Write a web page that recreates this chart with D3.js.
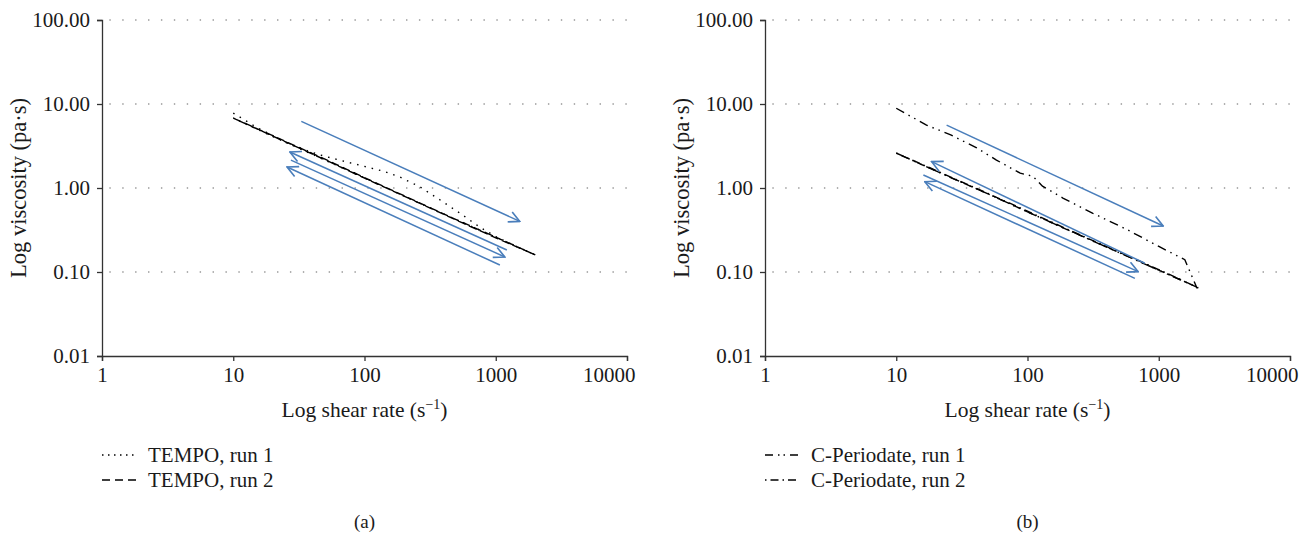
<!DOCTYPE html>
<html>
<head>
<meta charset="utf-8">
<script src="https://cdn.jsdelivr.net/npm/d3@7"></script>
<style>
  body { margin: 0; background: #fff; }
  svg text { font-family: "Liberation Serif", "Times New Roman", serif; fill: #1a1a1a; }
</style>
</head>
<body>
<svg id="chart" width="1309" height="535"></svg>
<script>
// ---- data (shear rate s^-1, viscosity Pa·s) ----
var xTicks = [1, 10, 100, 1000, 10000];
var yTicks = [0.01, 0.1, 1, 10, 100];

// panel (a) TEMPO
var tempoRun1Shear = [10, 15, 20, 27, 35, 46, 68, 97, 138, 186, 265, 377, 535, 760, 1017, 1400, 2000,
                      1000, 500, 200, 100, 50, 20, 10];
var tempoRun1Visc  = [7.8, 5.3, 4.2, 3.3, 2.85, 2.47, 2.1, 1.83, 1.59, 1.35, 1.03, 0.72, 0.50, 0.34, 0.26, 0.205, 0.16,
                      0.26, 0.42, 0.80, 1.32, 2.15, 4.1, 6.8];
var tempoRun2Shear = [10, 20, 50, 100, 200, 500, 1000, 2000, 1000, 500, 200, 100, 50, 20, 10];
var tempoRun2Visc  = [6.8, 4.2, 2.2, 1.33, 0.81, 0.42, 0.26, 0.16, 0.255, 0.415, 0.80, 1.31, 2.17, 4.15, 6.8];

// panel (b) C-Periodate
var perRun1Shear = [10, 17, 26, 41, 58, 88, 110, 130, 186, 315, 573, 1010, 1580, 1950,
                    2000, 1000, 500, 200, 100, 50, 20, 10];
var perRun1Visc  = [8.9, 5.6, 4.3, 3.0, 2.15, 1.5, 1.38, 1.05, 0.76, 0.50, 0.32, 0.20, 0.14, 0.065,
                    0.065, 0.105, 0.17, 0.32, 0.52, 0.85, 1.6, 2.6];
var perRun2Shear = [10, 20, 50, 100, 200, 500, 1000, 2000, 1000, 500, 200, 100, 50, 20, 10];
var perRun2Visc  = [2.6, 1.6, 0.85, 0.52, 0.32, 0.17, 0.105, 0.065, 0.107, 0.172, 0.325, 0.53, 0.86, 1.62, 2.6];

// direction arrows [x1, y1, x2, y2], head drawn at the second point
var tempoArrows = [
    [33, 6.2, 1525, 0.40],
    [1215, 0.183, 27, 2.68],
    [27.5, 2.15, 1173, 0.151],
    [1075, 0.121, 25.7, 1.78]
];
var perArrows = [
    [24.2, 5.6, 1081, 0.353],
    [783, 0.127, 18.6, 2.06],
    [16.1, 1.43, 697, 0.101],
    [658, 0.084, 16.5, 1.19]
];

var panels = [
    { tag: "(a)", dx: 0, arrows: tempoArrows,
      series: [
        { name: "TEMPO, run 1", xs: tempoRun1Shear, ys: tempoRun1Visc, dash: "1.5,6", legendDash: "1.5,4.5" },
        { name: "TEMPO, run 2", xs: tempoRun2Shear, ys: tempoRun2Visc, dash: "8,4", legendDash: "8,5" }
      ] },
    { tag: "(b)", dx: 663, arrows: perArrows,
      series: [
        { name: "C-Periodate, run 1", xs: perRun1Shear, ys: perRun1Visc, dash: "9,5,1.5,5,1.5,5", legendDash: "8,5,1.5,4,1.5,5" },
        { name: "C-Periodate, run 2", xs: perRun2Shear, ys: perRun2Visc, dash: "1.5,4,8,4", legendDash: "1.5,4,8,4" }
      ] }
];

var svg = d3.select("#chart");
var blue = "#4a7ebb";

// arrow marker
svg.append("defs").append("marker")
    .attr("id", "head")
    .attr("viewBox", "0 0 12 12")
    .attr("refX", 11).attr("refY", 6)
    .attr("markerWidth", 13).attr("markerHeight", 13)
    .attr("markerUnits", "userSpaceOnUse")
    .attr("orient", "auto")
    .append("path")
    .attr("d", "M1,1 L11,6 L1,11")
    .attr("fill", "none")
    .attr("stroke", blue)
    .attr("stroke-width", 1.5);

panels.forEach(function (p) {
    var left = 102, right = 627, top = 20, bottom = 356;
    var g = svg.append("g").attr("transform", "translate(" + p.dx + ",0)");

    var x = d3.scaleLog().domain([1, 10000]).range([left, right]);
    var y = d3.scaleLog().domain([0.01, 100]).range([bottom, top]);

    // dotted gridlines
    g.selectAll(".grid")
        .data(yTicks.slice(1))
        .enter().append("line")
        .attr("x1", left + 8).attr("x2", right)
        .attr("y1", function (d) { return y(d); })
        .attr("y2", function (d) { return y(d); })
        .attr("stroke", "#8a8a8a")
        .attr("stroke-width", 1.6)
        .attr("stroke-linecap", "round")
        .attr("stroke-dasharray", "0.1,12.8");

    // axes
    var ya = g.append("g")
        .attr("transform", "translate(" + left + ",0)")
        .call(d3.axisLeft(y).tickValues(yTicks).tickFormat(d3.format(".2f")).tickSize(5).tickPadding(7));
    var xa = g.append("g")
        .attr("transform", "translate(0," + bottom + ")")
        .call(d3.axisBottom(x).tickValues(xTicks).tickFormat(d3.format("d")).tickSize(5).tickPadding(6));
    [ya, xa].forEach(function (a) {
        a.select(".domain").attr("stroke", "#333").attr("stroke-width", 1.3);
        a.selectAll(".tick line").attr("stroke", "#333").attr("stroke-width", 1.3);
        a.selectAll("text").style("font-size", "21px").attr("fill", "#1a1a1a");
    });
    // last x label stays inside the axis end
    xa.selectAll(".tick text")
        .filter(function (d) { return d === 10000; })
        .attr("text-anchor", "end")
        .attr("x", 8);

    // series
    var line = d3.line()
        .x(function (d) { return x(d[0]); })
        .y(function (d) { return y(d[1]); });

    p.series.forEach(function (s) {
        var pts = d3.zip(s.xs, s.ys);
        g.append("path")
            .datum(pts)
            .attr("fill", "none")
            .attr("stroke", "#000")
            .attr("stroke-width", 1.4)
            .attr("stroke-dasharray", s.dash)
            .attr("d", line);
    });

    // arrows
    p.arrows.forEach(function (a) {
        g.append("line")
            .attr("x1", x(a[0])).attr("y1", y(a[1]))
            .attr("x2", x(a[2])).attr("y2", y(a[3]))
            .attr("stroke", blue)
            .attr("stroke-width", 1.5)
            .attr("marker-end", "url(#head)");
    });

    // axis titles
    g.append("text")
        .attr("transform", "translate(" + (left - 84) + "," + ((top + bottom) / 2) + ") rotate(-90)")
        .attr("text-anchor", "middle")
        .attr("dy", "0.35em")
        .style("font-size", "22.5px")
        .text("Log viscosity (pa·s)");

    var xt = g.append("text")
        .attr("x", (left + right) / 2)
        .attr("y", 417)
        .attr("text-anchor", "middle")
        .style("font-size", "21.5px");
    xt.append("tspan").text("Log shear rate (s");
    xt.append("tspan").attr("dy", -8).style("font-size", "14px").text("\u22121");
    xt.append("tspan").attr("dy", 8).text(")");

    // legend
    p.series.forEach(function (s, i) {
        var ly = 455 + i * 25;
        g.append("line")
            .attr("x1", left).attr("x2", left + 35)
            .attr("y1", ly).attr("y2", ly)
            .attr("stroke", "#000")
            .attr("stroke-width", 1.4)
            .attr("stroke-dasharray", s.legendDash);
        g.append("text")
            .attr("x", left + 46)
            .attr("y", ly)
            .attr("dy", "0.35em")
            .style("font-size", "21px")
            .text(s.name);
    });

    // panel tag
    g.append("text")
        .attr("x", (left + right) / 2)
        .attr("y", 521)
        .attr("dy", "0.35em")
        .attr("text-anchor", "middle")
        .style("font-size", "19px")
        .text(p.tag);
});
</script>
</body>
</html>
